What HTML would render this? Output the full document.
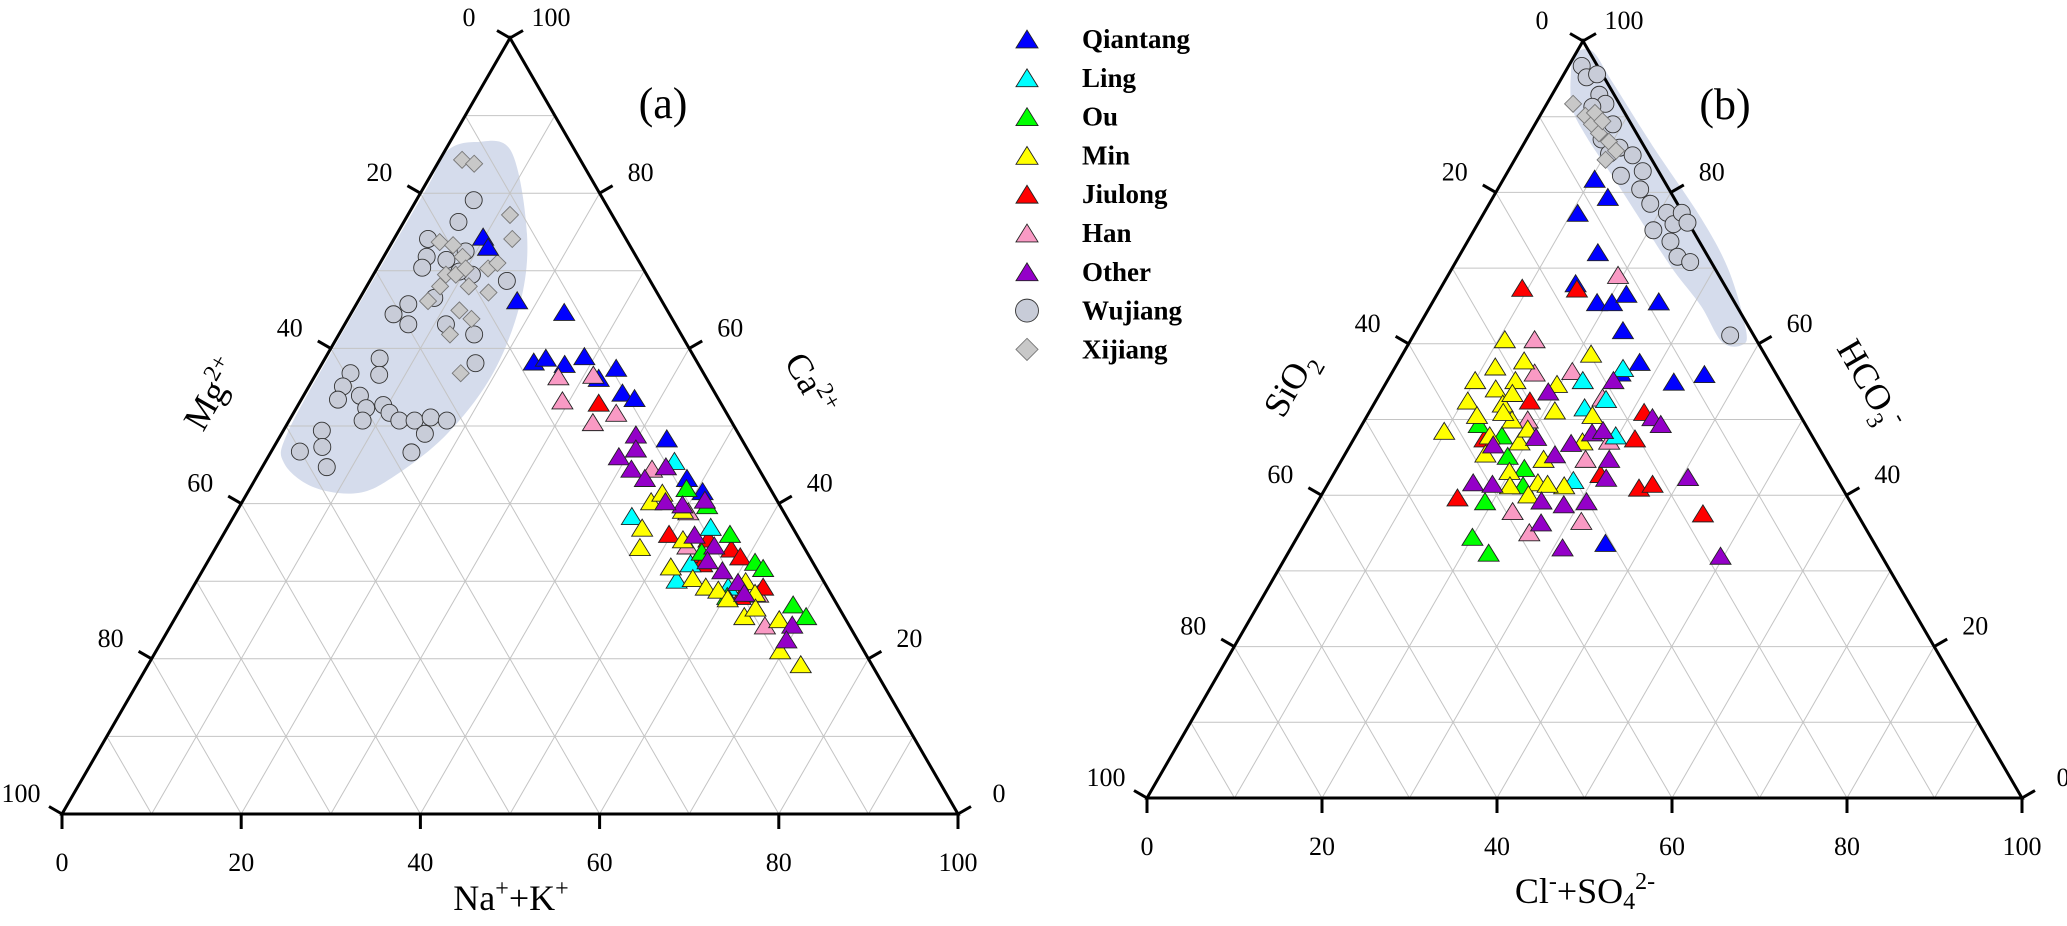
<!DOCTYPE html>
<html><head><meta charset="utf-8"><style>
html,body{margin:0;padding:0;background:#fff;}
svg, svg text{font-family:"Liberation Serif","Times New Roman",serif;}
</style></head><body>
<svg id="chart" width="2067" height="921" viewBox="0 0 2067 921" xmlns="http://www.w3.org/2000/svg" font-family="Liberation Serif, serif"></svg>
<script>
// ---- Plot (a): pairs [Na+K %, Ca %] ----
const a_qiantang = [[9.8,74.4],[11.0,73.1],[17.7,66.2],[23.7,64.7],[23.5,58.3],[24.6,58.8],[27.1,58.0],[28.8,59.0],[31.8,56.2],[33.1,57.5],[35.4,54.3],[37.1,53.6],[43.3,48.4],[48.1,43.3],[50.7,41.6]];
const a_ling = [[45.6,45.5],[44.4,38.4],[53.9,37.0],[53.5,30.2],[54.0,32.3],[59.7,29.3]];
const a_ou = [[48.7,42.0],[52.1,39.8],[56.5,36.1],[61.1,32.5],[62.4,31.7],[68.1,27.0],[70.3,25.5],[60.2,28.1],[54.5,33.8]];
const a_min = [[45.6,40.3],[46.3,41.4],[46.3,36.9],[47.3,34.4],[51.6,35.4],[52.0,31.9],[55.2,30.4],[57.2,29.3],[58.8,28.9],[61.3,30.0],[63.1,28.5],[63.4,25.5],[64.1,26.6],[67.5,25.1],[69.6,21.1],[72.8,19.3],[60.4,27.8],[49.7,39.2]];
const a_jiulong = [[33.4,53.0],[49.7,36.1],[54.4,35.5],[54.6,33.5],[57.6,34.2],[59.1,33.2],[63.6,29.3],[61.7,28.1],[55.3,32.3]];
const a_han = [[27.2,56.4],[31.0,56.6],[29.2,53.3],[36.0,51.7],[34.0,50.5],[43.6,44.5],[50.4,39.0],[52.5,34.6],[63.5,28.4],[66.3,24.3]];
const a_other = [[39.6,48.9],[40.5,47.1],[39.1,46.1],[41.3,44.5],[43.4,43.3],[45.0,44.8],[49.3,39.9],[51.5,40.5],[47.2,40.3],[52.6,36.0],[55.5,34.6],[58.0,31.4],[60.5,29.9],[61.9,28.5],[69.3,24.4],[69.6,22.5],[55.7,32.7]];
const a_wujiang = [[6.4,79.1],[6.1,76.3],[3.8,74.1],[4.8,71.8],[5.0,70.4],[7.2,71.4],[8.8,72.5],[15.3,68.7],[11.0,69.5],[5.8,65.7],[4.8,64.4],[7.1,63.1],[11.3,63.1],[15.1,61.8],[8.3,66.5],[6.1,58.7],[7.1,56.6],[3.8,56.8],[3.8,55.1],[4.1,53.4],[6.3,53.9],[7.8,52.3],[9.5,52.7],[10.7,51.7],[8.2,50.7],[12.3,50.7],[14.0,50.7],[15.6,51.1],[17.6,50.7],[16.0,49.0],[4.3,49.4],[5.4,47.3],[3.2,46.7],[7.2,44.7],[15.7,46.6],[17.1,58.1],[9.4,69.9]];
const a_xijiang = [[2.5,84.3],[4.1,83.8],[11.4,77.2],[13.2,74.1],[5.3,73.7],[7.0,73.3],[8.8,71.8],[8.1,69.5],[9.2,69.5],[11.4,68.0],[12.4,70.3],[13.1,71.0],[14.0,67.2],[8.2,68.0],[11.9,64.9],[13.8,63.8],[12.4,61.8],[7.8,66.1],[16.1,56.8],[9.9,70.3]];
// ---- Plot (b): pairs [Cl+SO4 %, HCO3 %] ----
const b_qiantang = [[10.4,81.8],[13.1,79.4],[10.7,77.3],[15.6,72.1],[15.1,68.0],[18.8,65.5],[20.5,65.5],[21.6,66.6],[25.8,65.6],[23.6,61.8],[27.6,57.6],[32.8,55.0],[35.8,56.0],[35.6,33.7],[26.1,56.2]];
const b_ling = [[26.1,56.8],[22.3,55.2],[24.3,51.6],[26.2,52.7],[29.7,47.9],[27.8,42.0]];
const b_ou = [[13.3,49.4],[16.7,47.9],[18.7,45.2],[21.4,43.6],[22.4,41.3],[19.1,39.2],[20.0,34.5],[22.9,32.4]];
const b_min = [[10.7,60.6],[11.4,57.0],[14.3,57.8],[10.0,55.2],[14.6,55.2],[19.6,54.7],[21.5,58.7],[12.9,54.1],[10.5,52.5],[14.7,52.1],[15.1,53.5],[12.5,50.6],[16.8,50.0],[21.1,51.2],[25.7,50.6],[9.8,48.5],[15.3,47.9],[19.1,47.1],[19.2,48.8],[23.0,44.8],[16.0,45.5],[19.9,43.2],[23.9,41.7],[27.1,41.3],[20.9,41.3],[23.6,40.1],[25.1,41.5],[26.3,47.1],[15.3,51.0]];
const b_jiulong = [[9.3,67.4],[15.6,67.3],[17.6,52.5],[14.9,47.5],[30.5,42.8],[32.1,47.5],[31.4,51.0],[35.8,41.0],[37.1,41.5],[44.8,37.6],[15.7,39.7]];
const b_han = [[19.4,69.1],[14.1,60.6],[16.3,56.2],[20.5,56.4],[25.7,52.9],[18.6,50.0],[27.8,44.8],[29.3,47.2],[22.9,37.9],[31.4,36.6],[26.2,35.1]];
const b_other = [[19.1,53.7],[25.8,55.2],[26.8,48.3],[27.9,48.6],[25.1,46.9],[20.7,47.7],[24.0,45.4],[16.3,46.7],[30.5,44.8],[31.4,42.3],[16.5,41.7],[18.8,41.5],[25.5,39.3],[28.3,38.8],[30.7,39.2],[26.9,36.4],[31.0,33.1],[32.7,50.3],[34.1,49.4],[40.7,42.4],[49.6,32.0]];
const b_wujiang = [[1.5,96.7],[2.8,95.2],[3.8,95.6],[5.4,92.9],[6.7,91.7],[6.5,89.8],[8.9,89.0],[8.6,87.0],[11.2,85.9],[13.2,84.9],[13.2,82.2],[16.3,80.4],[15.4,82.8],[18.4,78.5],[20.9,77.3],[22.4,75.8],[20.5,75.0],[23.2,73.5],[25.0,71.5],[26.8,70.8],[22.6,77.3],[23.9,76.0],[36.2,61.1],[10.4,85.1],[5.4,91.3]];
const b_xijiang = [[3.0,91.7],[5.2,90.1],[6.5,89.0],[7.9,87.8],[9.6,86.7],[11.0,85.5],[10.4,84.3],[6.1,90.5],[7.5,89.4]];
const tickValues = [0,20,40,60,80,100];
const legendLabels = ["Qiantang","Ling","Ou","Min","Jiulong","Han","Other","Wujiang","Xijiang"];

const NS = "http://www.w3.org/2000/svg";
const svg = document.getElementById("chart");
const FF = '"Liberation Serif", "Times New Roman", serif';
function mk(tag, attrs, parent){ const e=document.createElementNS(NS,tag); for(const k in attrs) e.setAttribute(k,attrs[k]); if(tag==="text") e.style.fontFamily=FF; (parent||svg).appendChild(e); return e; }

const PA = {bl:{x:62,y:814}, br:{x:958,y:814}, t:{x:510,y:38}};
const PB = {bl:{x:1147,y:798}, br:{x:2022,y:798}, t:{x:1583,y:41}};
function proj(P,b,r){ return { x: P.bl.x + b/100*(P.br.x-P.bl.x) + r/100*(P.t.x-P.bl.x), y: P.bl.y - r/100*(P.bl.y-P.t.y) }; }

const styles = {
  qiantang:{shape:"tri",fill:"#0000ff"}, ling:{shape:"tri",fill:"#00ffff"}, ou:{shape:"tri",fill:"#00ff00"},
  min:{shape:"tri",fill:"#ffff00"}, jiulong:{shape:"tri",fill:"#ff0000"}, han:{shape:"tri",fill:"#f99ac4"},
  other:{shape:"tri",fill:"#9400c8"}, wujiang:{shape:"circ",fill:"#c8ccd8"}, xijiang:{shape:"dia",fill:"#c8c8c8"}
};
function marker(g, st, x, y, s){
  s = s||1; let e;
  if(st.shape==="tri"){ const w=10.5*s,h=8.5*s; e=mk("polygon",{points:`${x},${y-h} ${x+w},${y+h} ${x-w},${y+h}`,fill:st.fill,stroke:"#222","stroke-width":0.9},g); }
  else if(st.shape==="circ"){ e=mk("circle",{cx:x,cy:y,r:8.5*s,fill:st.fill,stroke:"#333","stroke-width":0.9},g); }
  else { const d=8.5*s; e=mk("polygon",{points:`${x},${y-d} ${x+d},${y} ${x},${y+d} ${x-d},${y}`,fill:st.fill,stroke:"#777","stroke-width":0.9},g); }
  return e;
}
function smoothPath(pts){
  const n=pts.length; let d=`M${pts[0][0]},${pts[0][1]}`;
  for(let i=0;i<n;i++){ const p0=pts[(i-1+n)%n],p1=pts[i],p2=pts[(i+1)%n],p3=pts[(i+2)%n];
    d+=` C${p1[0]+(p2[0]-p0[0])/6},${p1[1]+(p2[1]-p0[1])/6} ${p2[0]-(p3[0]-p1[0])/6},${p2[1]-(p3[1]-p1[1])/6} ${p2[0]},${p2[1]}`; }
  return d+"Z";
}

function drawPlot(P, id, blob, series, titles, panelLabel){
  const g = mk("g",{});
  
  
  const bl = mk("path",{d:smoothPath(blob),fill:"#d5dcec"},g);
  
  
  const grid = mk("g",{stroke:"#c4c4c4","stroke-width":1,fill:"none"},g);
  
  
  for(let k=10;k<100;k+=10){
    let p=proj(P,0,k), q=proj(P,100-k,k); mk("line",{x1:p.x,y1:p.y,x2:q.x,y2:q.y},grid);
    p=proj(P,k,0); q=proj(P,k,100-k); mk("line",{x1:p.x,y1:p.y,x2:q.x,y2:q.y},grid);
    p=proj(P,100-k,0); q=proj(P,0,100-k); mk("line",{x1:p.x,y1:p.y,x2:q.x,y2:q.y},grid);
  }
  const edge = mk("polygon",{points:`${P.bl.x},${P.bl.y} ${P.br.x},${P.br.y} ${P.t.x},${P.t.y}`,fill:"none",stroke:"#000","stroke-width":3,"stroke-linejoin":"miter"},g);
  
  
  const tg = mk("g",{stroke:"#000","stroke-width":3},g);
  const lg = mk("g",{"font-size":26,fill:"#000","text-anchor":"middle"},g);
  tickValues.forEach(v=>{
    let p=proj(P,v,0); mk("line",{x1:p.x,y1:p.y,x2:p.x,y2:p.y+15},tg);
    let t=mk("text",{x:p.x,y:p.y+57},lg); t.textContent=v;
    
    
    p=proj(P,0,100-v); mk("line",{x1:p.x,y1:p.y,x2:p.x-13,y2:p.y-7.5},tg);
    t=mk("text",{x:p.x-41,y:p.y-12},lg); t.textContent=v;
    
    
    p=proj(P,100-v,v); mk("line",{x1:p.x,y1:p.y,x2:p.x+13,y2:p.y-7.5},tg);
    t=mk("text",{x:p.x+41,y:p.y-12},lg); t.textContent=v;
    
    
  });
  const mg = mk("g",{},g);
  for(const key in series){
    series[key].forEach(pt=>{ const p=proj(P,pt[0],pt[1]); const e=marker(mg,styles[key],p.x,p.y);
      
       });
  }
  titles.forEach(tt=>{ const t=mk("text",{x:tt.x,y:tt.y,"font-size":36,"text-anchor":"middle",transform:`rotate(${tt.rot} ${tt.x} ${tt.y})`},g);
    t.innerHTML=tt.html;   });
  const pl = mk("text",{x:panelLabel.x,y:panelLabel.y,"font-size":44,"text-anchor":"middle"},g);
  pl.textContent=panelLabel.text;
  
  
}

drawPlot(PA,"a",
  [[476,142],[511,151],[527,234],[520,304],[492,375],[447,434],[396,475],[358,493],[313,487],[284,463],[287,434],[332,351],[383,263],[428,186],[447,151]],
  {wujiang:a_wujiang,xijiang:a_xijiang,qiantang:a_qiantang,han:a_han,jiulong:a_jiulong,ling:a_ling,ou:a_ou,min:a_min,other:a_other},
  [{x:222,y:400,rot:-60,name:"mg-axis-title",html:'Mg<tspan font-size="24" dy="-14">2+</tspan>'},
   {x:800,y:390,rot:60,name:"ca-axis-title",html:'Ca<tspan font-size="24" dy="-14">2+</tspan>'},
   {x:511,y:910,rot:0,name:"na-k-axis-title",html:'Na<tspan font-size="24" dy="-14">+</tspan><tspan dy="14">+K</tspan><tspan font-size="24" dy="-14">+</tspan>'}],
  {x:663,y:118,text:"(a)"});

drawPlot(PB,"b",
  [[1575,54],[1592,51],[1613,83],[1654,148],[1701,218],[1729,271],[1746,330],[1742,345],[1722,342],[1701,306],[1674,271],[1647,230],[1613,177],[1586,136],[1572,107],[1571,72]],
  {wujiang:b_wujiang,xijiang:b_xijiang,qiantang:b_qiantang,han:b_han,jiulong:b_jiulong,ling:b_ling,ou:b_ou,min:b_min,other:b_other},
  [{x:1300,y:390,rot:-60,name:"sio2-axis-title",html:'SiO<tspan font-size="24" dy="10">2</tspan>'},
   {x:1860,y:390,rot:60,name:"hco3-axis-title",html:'HCO<tspan font-size="24" dy="10">3</tspan><tspan font-size="24" dy="-24">-</tspan>'},
   {x:1585,y:903,rot:0,name:"cl-so4-axis-title",html:'Cl<tspan font-size="24" dy="-14">-</tspan><tspan dy="14">+SO</tspan><tspan font-size="24" dy="6">4</tspan><tspan font-size="24" dy="-20">2-</tspan>'}],
  {x:1725,y:119,text:"(b)"});

// legend
const legend = mk("g",{});


const keys=["qiantang","ling","ou","min","jiulong","han","other","wujiang","xijiang"];
legendLabels.forEach((lab,i)=>{
  const y=39+i*38.8;
  const it=mk("g",{},legend);
  
  
  marker(it,styles[keys[i]],1027,y,keys[i]==="wujiang"?1.35:(keys[i]==="xijiang"?1.3:1.05));
  const t=mk("text",{x:1082,y:y+9,"font-size":27,"font-weight":"bold"},it);
  t.textContent=lab;
});
</script>
</body></html>
